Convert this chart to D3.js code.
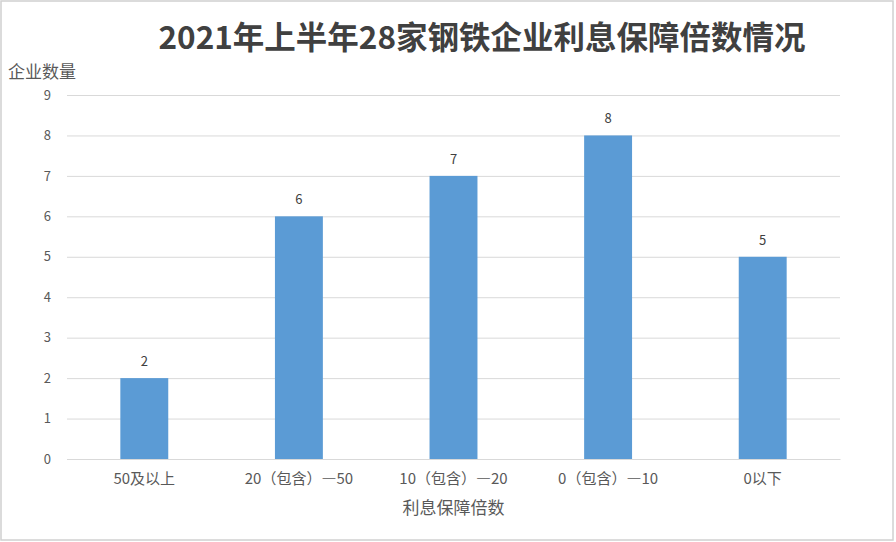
<!DOCTYPE html>
<html lang="zh">
<head>
<meta charset="utf-8">
<title>钢铁企业利息保障倍数</title>
<script src="https://d3js.org/d3.v7.min.js"></script>
<style>
  html, body { margin: 0; padding: 0; background: #fff; }
  svg { display: block; }
</style>
</head>
<body>
<script>
// data
var categories = ["50及以上", "20（包含）—50", "10（包含）—20", "0（包含）—10", "0以下"];
var counts = [2, 6, 7, 8, 5];
var yTicks = [0, 1, 2, 3, 4, 5, 6, 7, 8, 9];

var W = 896, H = 542;
var margin = {top: 95, right: 56, bottom: 83, left: 67};
var width = W - margin.left - margin.right;
var height = H - margin.top - margin.bottom;
var font = "'Noto Sans CJK SC', 'DejaVu Sans', sans-serif";

var svg = d3.select("body").append("svg")
    .attr("width", W)
    .attr("height", H);

// outer frame
svg.append("rect")
    .attr("x", 1).attr("y", 1)
    .attr("width", W - 4).attr("height", H - 3)
    .attr("fill", "#fff")
    .attr("stroke", "#d0d0d0")
    .attr("stroke-width", 1.5);

var g = svg.append("g")
    .attr("transform", "translate(" + margin.left + "," + margin.top + ")");

var x = d3.scaleBand()
    .domain(categories)
    .range([0, width])
    .paddingInner(0.69)
    .paddingOuter(0.345);

var y = d3.scaleLinear()
    .domain([0, 9])
    .range([height, 0]);

// gridlines + y labels
var yAxis = g.append("g")
    .call(d3.axisLeft(y).tickValues(yTicks).tickSize(-width).tickPadding(16).tickFormat(d3.format("d")));
yAxis.select(".domain").remove();
yAxis.selectAll("line").attr("stroke", "#d9d9d9").attr("stroke-width", 1);
yAxis.selectAll("text")
    .attr("fill", "#595959")
    .style("font-family", font)
    .style("font-size", "13px");

// bars
g.selectAll("rect.bar")
    .data(counts)
    .enter().append("rect")
    .attr("class", "bar")
    .attr("x", function (d, i) { return x(categories[i]); })
    .attr("y", function (d) { return y(d); })
    .attr("width", x.bandwidth())
    .attr("height", function (d) { return height - y(d); })
    .attr("fill", "#5b9bd5");

// value labels
g.selectAll("text.val")
    .data(counts)
    .enter().append("text")
    .attr("class", "val")
    .attr("x", function (d, i) { return x(categories[i]) + x.bandwidth() / 2; })
    .attr("y", function (d) { return y(d) - 12; })
    .attr("text-anchor", "middle")
    .attr("fill", "#404040")
    .style("font-family", font)
    .style("font-size", "13px")
    .text(function (d) { return d; });

// x axis
var xAxis = g.append("g")
    .attr("transform", "translate(0," + height + ")")
    .call(d3.axisBottom(x).tickSize(0).tickPadding(14));
xAxis.select(".domain").attr("stroke", "#d9d9d9");
xAxis.selectAll("text")
    .attr("fill", "#595959")
    .style("font-family", font)
    .style("font-size", "15px");

// x axis title
g.append("text")
    .attr("x", width / 2)
    .attr("y", height + 55)
    .attr("text-anchor", "middle")
    .attr("fill", "#595959")
    .style("font-family", font)
    .style("font-size", "17px")
    .text("利息保障倍数");

// y axis title
svg.append("text")
    .attr("x", 8)
    .attr("y", 78)
    .attr("fill", "#595959")
    .style("font-family", font)
    .style("font-size", "17px")
    .text("企业数量");

// chart title
svg.append("text")
    .attr("x", 482)
    .attr("y", 49)
    .attr("text-anchor", "middle")
    .attr("fill", "#404040")
    .style("font-family", font)
    .style("font-weight", "bold")
    .style("font-size", "31.5px")
    .text("2021年上半年28家钢铁企业利息保障倍数情况");
</script>
</body>
</html>
